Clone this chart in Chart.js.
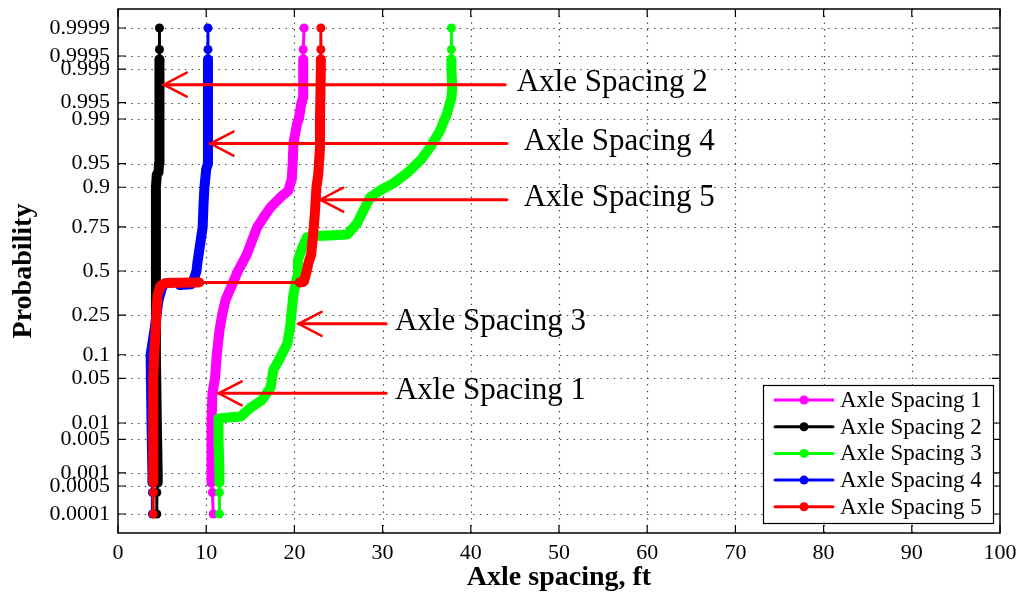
<!DOCTYPE html>
<html>
<head>
<meta charset="utf-8">
<title>Axle spacing probability plot</title>
<script src="https://cdn.jsdelivr.net/npm/chart.js"></script>
<style>
  body { margin: 0; background: #fff; }
  #wrap { width: 1026px; height: 597px; }
</style>
</head>
<body>
<div id="wrap"><canvas id="myChart" width="1026" height="597"></canvas></div>
<script>
// tick labels of the normal probability axis
const probTickLabels = ['0.0001', '0.0005', '0.001', '0.005', '0.01', '0.05', '0.1', '0.25', '0.5',
  '0.75', '0.9', '0.95', '0.99', '0.995', '0.999', '0.9995', '0.9999']
const xTicks = [0, 10, 20, 30, 40, 50, 60, 70, 80, 90, 100]

// Axle Spacing 1 (magenta)
const spacing1P = [0.0001, 0.00035, 0.0006, 0.001, 0.005, 0.01, 0.03, 0.05, 0.1, 0.18, 0.25, 0.33, 0.40, 0.45, 0.5,
  0.55, 0.6, 0.68, 0.75, 0.8, 0.835, 0.87, 0.89, 0.92, 0.95, 0.975, 0.988, 0.99, 0.995, 0.996, 0.999, 0.9994, 0.99965, 0.9999]
const spacing1X = [10.8, 10.7, 10.6, 10.6, 10.6, 10.6, 10.7, 11.0, 11.2, 11.5, 11.8, 12.2, 12.8, 13.2, 13.6,
  14.1, 14.6, 15.2, 15.8, 16.6, 17.3, 18.4, 19.3, 19.7, 19.8, 19.9, 20.3, 20.5, 20.8, 21.0, 21.0, 21.0, 21.0, 21.1]

// Axle Spacing 2 (black)
const spacing2P = [0.0001, 0.00035, 0.0006, 0.001, 0.01, 0.1, 0.3, 0.5, 0.7, 0.9, 0.93, 0.935, 0.95, 0.99, 0.999, 0.9994, 0.99965, 0.9999]
const spacing2X = [4.4, 4.4, 4.5, 4.5, 4.4, 4.3, 4.3, 4.3, 4.3, 4.3, 4.4, 4.6, 4.65, 4.7, 4.7, 4.7, 4.7, 4.7]

// Axle Spacing 3 (green)
const spacing3P = [0.0001, 0.00035, 0.0006, 0.001, 0.005, 0.012, 0.0125, 0.013, 0.018, 0.024, 0.037, 0.064, 0.085, 0.133,
  0.193, 0.273, 0.365, 0.46, 0.564, 0.641, 0.696, 0.703, 0.705, 0.707, 0.709, 0.712, 0.767, 0.835, 0.870, 0.891, 0.910,
  0.932, 0.955, 0.971, 0.984, 0.992, 0.996, 0.9975, 0.999, 0.9994, 0.99965, 0.9999]
const spacing3X = [11.5, 11.5, 11.5, 11.5, 11.4, 11.4, 12.5, 13.9, 15.0, 16.3, 17.3, 17.6, 18.2, 19.2,
  19.5, 19.7, 19.9, 20.3, 20.4, 20.9, 21.4, 22.1, 23.0, 24.0, 25.0, 26.0, 27.1, 28.0, 28.6, 29.7, 31.2,
  32.7, 34.3, 35.4, 36.5, 37.3, 37.8, 37.9, 37.8, 37.8, 37.8, 37.8]

// Axle Spacing 4 (blue)
const spacing4P = [0.0001, 0.00035, 0.0006, 0.001, 0.01, 0.1, 0.2, 0.33, 0.40, 0.415, 0.42, 0.45, 0.5, 0.55, 0.62,
  0.75, 0.85, 0.9, 0.94, 0.95, 0.99, 0.999, 0.9994, 0.99965, 0.9999]
const spacing4X = [3.9, 3.9, 3.9, 3.9, 3.8, 3.7, 4.2, 4.6, 5.0, 7.0, 8.3, 8.6, 8.9, 9.0, 9.2,
  9.6, 9.7, 9.8, 10.0, 10.2, 10.2, 10.2, 10.2, 10.2, 10.2]

// Axle Spacing 5 (red)
const spacing5P = [0.0001, 0.00035, 0.0006, 0.001, 0.01, 0.05, 0.1, 0.2, 0.3, 0.36, 0.41, 0.425, 0.428, 0.429, 0.4295,
  0.43, 0.4305, 0.433, 0.44, 0.5, 0.55, 0.6, 0.7, 0.8, 0.9, 0.93, 0.97, 0.99, 0.999, 0.9994, 0.99965, 0.9999]
const spacing5X = [4.0, 4.0, 4.0, 4.0, 4.0, 4.0, 4.1, 4.3, 4.4, 4.5, 4.8, 5.3, 6.0, 7.0, 8.2,
  9.2, 20.6, 21.0, 21.1, 21.4, 21.6, 21.9, 22.1, 22.3, 22.5, 22.7, 22.9, 22.9, 23.0, 23.0, 23.0, 23.0]

const seriesNames = ['Axle Spacing 1', 'Axle Spacing 2', 'Axle Spacing 3', 'Axle Spacing 4', 'Axle Spacing 5']
const seriesColors = ['#ff00ff', '#000000', '#00ff00', '#0000ff', '#ff0000']

// arrows with labels (tip position, shaft end, label position)
const arrowLabels = ['Axle Spacing 2', 'Axle Spacing 4', 'Axle Spacing 5', 'Axle Spacing 3', 'Axle Spacing 1']
const arrowTipX = [5.19, 10.48, 22.93, 20.48, 11.42]
const arrowTipP = [0.99783, 0.9744, 0.8624, 0.2093, 0.0306]
const arrowEndX = [43.9, 44.1, 44.1, 30.4, 30.4]
const arrowTextX = [45.2, 46.0, 46.0, 31.4, 31.4]

const probTicks = probTickLabels.map(Number)
const FONT = "'Liberation Serif', 'Times New Roman', serif"

// inverse standard normal cdf (Acklam)
function probit (p) {
  const a = [-3.969683028665376e+01, 2.209460984245205e+02, -2.759285104469687e+02, 1.383577518672690e+02, -3.066479806614716e+01, 2.506628277459239e+00]
  const b = [-5.447609879822406e+01, 1.615858368580409e+02, -1.556989798598866e+02, 6.680131188771972e+01, -1.328068155288572e+01]
  const c = [-7.784894002430293e-03, -3.223964580411365e-01, -2.400758277161838e+00, -2.549732539343734e+00, 4.374664141464968e+00, 2.938163982698783e+00]
  const d = [7.784695709041462e-03, 3.224671290700398e-01, 2.445134137142996e+00, 3.754408661907416e+00]
  const pl = 0.02425
  if (p < pl) {
    const q = Math.sqrt(-2 * Math.log(p))
    return (((((c[0] * q + c[1]) * q + c[2]) * q + c[3]) * q + c[4]) * q + c[5]) / ((((d[0] * q + d[1]) * q + d[2]) * q + d[3]) * q + 1)
  }
  if (p > 1 - pl) {
    const q = Math.sqrt(-2 * Math.log(1 - p))
    return -(((((c[0] * q + c[1]) * q + c[2]) * q + c[3]) * q + c[4]) * q + c[5]) / ((((d[0] * q + d[1]) * q + d[2]) * q + d[3]) * q + 1)
  }
  const q = p - 0.5
  const r = q * q
  return (((((a[0] * r + a[1]) * r + a[2]) * r + a[3]) * r + a[4]) * r + a[5]) * q / (((((b[0] * r + b[1]) * r + b[2]) * r + b[3]) * r + b[4]) * r + 1)
}

function toPoints (xs, ps) {
  return xs.map((x, i) => ({ x: x, y: probit(ps[i]), p: ps[i] }))
}

const allX = [spacing1X, spacing2X, spacing3X, spacing4X, spacing5X]
const allP = [spacing1P, spacing2P, spacing3P, spacing4P, spacing5P]

// dense runs of markers look like a thick line, lone markers are joined by a thin one
function segWidth (ctx) {
  const ps = allP[ctx.datasetIndex]
  const pa = ps[ctx.p0DataIndex]
  const pb = ps[ctx.p1DataIndex]
  if (pa < 0.0005 || pb < 0.0005 || pa > 0.9995 || pb > 0.9995) return 3
  if (Math.abs(ctx.p1.x - ctx.p0.x) > 15 && Math.abs(ctx.p1.y - ctx.p0.y) < 3) return 3
  return 10
}

const datasets = seriesNames.map((name, i) => ({
  label: name,
  data: toPoints(allX[i], allP[i]),
  borderColor: seriesColors[i],
  backgroundColor: seriesColors[i],
  borderWidth: 10,
  borderCapStyle: 'round',
  borderJoinStyle: 'round',
  pointRadius: 4.5,
  pointBorderWidth: 0,
  pointBackgroundColor: seriesColors[i],
  tension: 0,
  order: 4 - i, // later series on top
  segment: { borderWidth: segWidth }
}))

const extras = {
  id: 'extras',
  beforeDatasetsDraw (chart) {
    const { ctx, chartArea: a, scales: { x, y } } = chart
    ctx.save()
    ctx.strokeStyle = '#333'
    ctx.lineWidth = 1.2
    ctx.setLineDash([1.3, 5.4])
    xTicks.slice(1, -1).forEach(v => {
      const px = Math.round(x.getPixelForValue(v)) + 0.5
      ctx.beginPath(); ctx.moveTo(px, a.top); ctx.lineTo(px, a.bottom); ctx.stroke()
    })
    probTicks.forEach(p => {
      const py = Math.round(y.getPixelForValue(probit(p))) + 0.5
      ctx.beginPath(); ctx.moveTo(a.left, py); ctx.lineTo(a.right, py); ctx.stroke()
    })
    ctx.restore()
  },
  afterDatasetsDraw (chart) {
    const { ctx, chartArea: a, scales: { x, y } } = chart
    ctx.save()
    // frame + inward ticks
    ctx.strokeStyle = '#000'
    ctx.lineWidth = 1.5
    ctx.strokeRect(a.left, a.top, a.right - a.left, a.bottom - a.top)
    ctx.lineWidth = 1.2
    xTicks.forEach(v => {
      const px = x.getPixelForValue(v)
      ctx.beginPath()
      ctx.moveTo(px, a.bottom); ctx.lineTo(px, a.bottom - 8)
      ctx.moveTo(px, a.top); ctx.lineTo(px, a.top + 8)
      ctx.stroke()
    })
    probTicks.forEach(p => {
      const py = y.getPixelForValue(probit(p))
      ctx.beginPath()
      ctx.moveTo(a.left, py); ctx.lineTo(a.left + 8, py)
      ctx.moveTo(a.right, py); ctx.lineTo(a.right - 8, py)
      ctx.stroke()
    })

    // arrows and their labels
    ctx.strokeStyle = '#ff0000'
    ctx.lineCap = 'round'
    arrowLabels.forEach((label, i) => {
      const tx = x.getPixelForValue(arrowTipX[i])
      const ty = y.getPixelForValue(probit(arrowTipP[i]))
      const ex = x.getPixelForValue(arrowEndX[i])
      ctx.lineWidth = 3
      ctx.beginPath(); ctx.moveTo(tx, ty); ctx.lineTo(ex, ty); ctx.stroke()
      ctx.lineWidth = 2.5
      ctx.beginPath()
      ctx.moveTo(tx + 23, ty - 12); ctx.lineTo(tx, ty); ctx.lineTo(tx + 23, ty + 12)
      ctx.stroke()
      ctx.fillStyle = '#000'
      ctx.font = '31px ' + FONT
      ctx.textAlign = 'left'
      ctx.textBaseline = 'middle'
      ctx.fillText(label, x.getPixelForValue(arrowTextX[i]), ty - 2)
    })

    // legend box
    const lx = 763; const ly = 385; const lw = 230; const lh = 138
    ctx.fillStyle = '#fff'
    ctx.fillRect(lx, ly, lw, lh)
    ctx.strokeStyle = '#000'
    ctx.lineWidth = 1.2
    ctx.strokeRect(lx + 0.5, ly + 0.5, lw, lh)
    seriesNames.forEach((name, i) => {
      const ry = ly + 15 + i * 26.7
      ctx.strokeStyle = seriesColors[i]
      ctx.lineWidth = 3
      ctx.beginPath(); ctx.moveTo(lx + 12, ry); ctx.lineTo(lx + 70, ry); ctx.stroke()
      ctx.fillStyle = seriesColors[i]
      ctx.beginPath(); ctx.arc(lx + 41, ry, 4.5, 0, Math.PI * 2); ctx.fill()
      ctx.fillStyle = '#000'
      ctx.font = '23px ' + FONT
      ctx.textAlign = 'left'
      ctx.textBaseline = 'middle'
      ctx.fillText(name, lx + 77, ry + 1)
    })

    // axis titles
    ctx.fillStyle = '#000'
    ctx.font = 'bold 28px ' + FONT
    ctx.textAlign = 'center'
    ctx.textBaseline = 'middle'
    ctx.fillText('Axle spacing, ft', (a.left + a.right) / 2, 578)
    ctx.translate(24, (a.top + a.bottom) / 2)
    ctx.rotate(-Math.PI / 2)
    ctx.fillText('Probability', 0, 0)
    ctx.restore()
  }
}

const ctx = document.getElementById('myChart').getContext('2d')
const myChart = new Chart(ctx, {
  type: 'line',
  data: { datasets: datasets },
  options: {
    responsive: false,
    animation: false,
    devicePixelRatio: 1,
    layout: { padding: { top: 9, right: 26, left: 0, bottom: 0 } },
    plugins: { legend: { display: false }, tooltip: { enabled: false } },
    scales: {
      x: {
        type: 'linear',
        min: 0,
        max: 100,
        afterBuildTicks: s => { s.ticks = xTicks.map(v => ({ value: v })) },
        ticks: { font: { family: FONT, size: 22 }, color: '#000', padding: 7, maxRotation: 0, autoSkip: false },
        grid: { display: false, drawTicks: false },
        border: { display: false },
        afterFit: s => { s.height = 64; s.paddingLeft = 0; s.paddingRight = 0 }
      },
      y: {
        type: 'linear',
        min: -4.01,
        max: 4.01,
        afterBuildTicks: s => { s.ticks = probTicks.map(p => ({ value: probit(p) })) },
        ticks: {
          autoSkip: false,
          font: { family: FONT, size: 22 },
          color: '#000',
          padding: 8,
          callback: (v, i) => probTickLabels[i]
        },
        grid: { display: false, drawTicks: false },
        border: { display: false },
        afterFit: s => { s.width = 118; s.paddingTop = 0; s.paddingBottom = 0 }
      }
    }
  },
  plugins: [extras]
})
</script>
</body>
</html>
